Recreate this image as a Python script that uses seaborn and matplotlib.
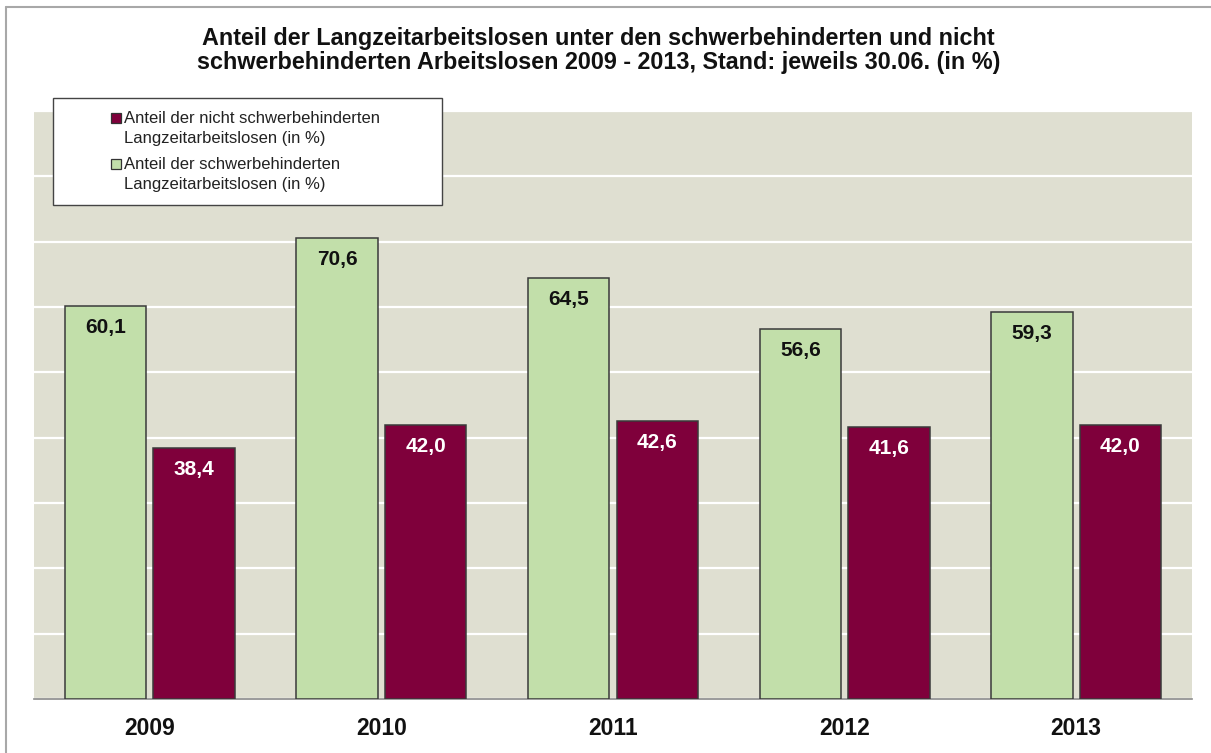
import numpy as np
import pandas as pd
import seaborn as sns
import matplotlib.pyplot as plt
from matplotlib.lines import Line2D
from matplotlib.legend_handler import HandlerLine2D

# data
years = ["2009", "2010", "2011", "2012", "2013"]
schwerbehindert = [60.1, 70.6, 64.5, 56.6, 59.3]
nicht_schwerbehindert = [38.4, 42.0, 42.6, 41.6, 42.0]

label_sb = "Anteil der schwerbehinderten\nLangzeitarbeitslosen (in %)"
label_nsb = "Anteil der nicht schwerbehinderten\nLangzeitarbeitslosen (in %)"
title = ("Anteil der Langzeitarbeitslosen unter den schwerbehinderten und nicht\n"
         "schwerbehinderten Arbeitslosen 2009 - 2013, Stand: jeweils 30.06. (in %)")

green = "#c2dfaa"
wine = "#7f003b"
bg = "#dfdfd1"

df = pd.DataFrame({
    "Jahr": years * 2,
    "Anteil": schwerbehindert + nicht_schwerbehindert,
    "Gruppe": [label_sb] * len(years) + [label_nsb] * len(years),
})

sns.set_style("white")
plt.rcParams["font.family"] = ["Liberation Sans", "DejaVu Sans"]

fig = plt.figure(figsize=(12.11, 7.53), dpi=100)
ax = fig.add_axes([34 / 1211, 1 - 699 / 753, (1192 - 34) / 1211, (699 - 111) / 753])
ax.set_facecolor(bg)

sns.barplot(data=df, x="Jahr", y="Anteil", hue="Gruppe",
            hue_order=[label_sb, label_nsb], palette=[green, wine], saturation=1,
            width=0.765, gap=0.08, edgecolor="#3a3a3a", linewidth=1.1,
            legend=False, ax=ax, zorder=3)

ax.set_xlim(-0.5, len(years) - 0.5)
ax.set_ylim(0, 90)
ax.set_yticks(np.arange(0, 91, 10))
ax.set_yticklabels([])
ax.tick_params(axis="y", length=0)
ax.grid(axis="y", color="white", linewidth=1.6, zorder=0)
ax.grid(axis="x", visible=False)
ax.set_axisbelow(True)
for side in ["left", "right", "top"]:
    ax.spines[side].set_visible(False)
ax.spines["bottom"].set_color("#8a8a8a")
ax.spines["bottom"].set_linewidth(1.2)

ax.set_xticks(np.arange(-0.5, len(years), 1.0), minor=True)
ax.tick_params(axis="x", which="minor", length=5, width=1.2, color="#8a8a8a")
ax.tick_params(axis="x", which="major", length=0, pad=13)
for t in ax.get_xticklabels():
    t.set_fontsize(16.5)
    t.set_fontweight("bold")
    t.set_color("#111111")
ax.set_xlabel("")
ax.set_ylabel("")

# value labels inside the top of each bar
for cont, vals, col in zip(ax.containers, [schwerbehindert, nicht_schwerbehindert],
                           ["#111111", "white"]):
    for bar, v in zip(cont, vals):
        ax.annotate(f"{v:.1f}".replace(".", ","),
                    xy=(bar.get_x() + bar.get_width() / 2, bar.get_height()),
                    xytext=(0, -15.5), textcoords="offset points",
                    ha="center", va="center", fontsize=15, fontweight="bold",
                    color=col, zorder=4)


def shift_marker(legline, orig):
    # copy the style, then move the square left of the text and up to the first line
    legline.update_from(orig)
    legline.set_xdata(np.asarray(legline.get_xdata()) + 17)
    legline.set_ydata(np.asarray(legline.get_ydata()) + 7.5)


handles = [
    Line2D([], [], marker="s", linestyle="none", markersize=6.5,
           markerfacecolor=wine, markeredgecolor="#333333", markeredgewidth=0.9),
    Line2D([], [], marker="s", linestyle="none", markersize=6.5,
           markerfacecolor=green, markeredgecolor="#333333", markeredgewidth=0.9),
]
leg = ax.legend(handles, [label_nsb, label_sb], loc="upper left",
                bbox_to_anchor=(53 / 1211, (753 - 210) / 753, 389 / 1211, 112 / 753),
                bbox_transform=fig.transFigure, mode="expand", borderaxespad=0,
                fontsize=12, frameon=True, fancybox=False, framealpha=1,
                edgecolor="#444444", borderpad=0.75, handlelength=3.2,
                handletextpad=0.3, labelspacing=0.65,
                handler_map={Line2D: HandlerLine2D(update_func=shift_marker)})
leg.get_frame().set_linewidth(1.0)
for t in leg.get_texts():
    t.set_color("#222222")
    t.set_linespacing(1.45)

fig.text(0.494, 1 - 27 / 753, title, ha="center", va="top",
         fontsize=16.8, fontweight="bold", color="#111111", linespacing=1.08)

# thin frame lines at top and left like the reference
fig.add_artist(Line2D([6 / 1211, 1], [1 - 7 / 753, 1 - 7 / 753],
                      transform=fig.transFigure, color="#a8a8a8", linewidth=1.5))
fig.add_artist(Line2D([6 / 1211, 6 / 1211], [0, 1 - 7 / 753],
                      transform=fig.transFigure, color="#a8a8a8", linewidth=1.5))

fig.savefig("out.png", dpi=100, facecolor="white")
